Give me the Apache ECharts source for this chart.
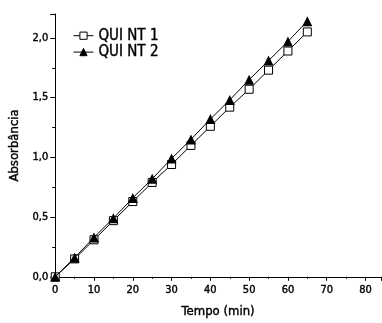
<!DOCTYPE html>
<html>
<head>
<meta charset="utf-8">
<script src="https://cdn.jsdelivr.net/npm/echarts@6/dist/echarts.min.js"></script>
<style>
  html, body { margin: 0; padding: 0; background: #fff; }
  #chart { width: 382px; height: 323px; }
</style>
</head>
<body>
<div id="chart"></div>
<script>
const tempo = [0, 5, 10, 15, 20, 25, 30, 35, 40, 45, 50, 55, 60, 65];
const quint1 = [0, 0.15, 0.31, 0.47, 0.63, 0.79, 0.94, 1.10, 1.26, 1.42, 1.57, 1.73, 1.89, 2.05];
const quint2 = [0, 0.16, 0.33, 0.49, 0.66, 0.82, 0.99, 1.15, 1.32, 1.48, 1.65, 1.81, 1.97, 2.14];
const seriesNames = ['QUI NT 1', 'QUI NT 2'];

const font = 'DejaVu Sans Condensed';
const chart = echarts.init(document.getElementById('chart'));

const pairs = (ys) => tempo.map((t, i) => [t, ys[i]]);
const comma = (v, d) => v.toFixed(d).replace('.', ',');
// slightly heavier than regular weight, like the original
const txt = (size) => ({
  fontFamily: font, fontSize: size, color: '#000',
  textBorderColor: '#000', textBorderWidth: 0.4,
});

const option = {
  animation: false,
  grid: {left: 52, top: 14, right: 1, bottom: 37},
  legend: {
    orient: 'vertical',
    left: 68,
    top: 23,
    itemWidth: 20,
    itemHeight: 9,
    itemGap: 1,
    itemStyle: {borderWidth: 1},
    lineStyle: {width: 1},
    textStyle: txt(15),
    data: seriesNames,
  },
  xAxis: {
    type: 'value',
    min: 0,
    max: 84,
    interval: 10,
    name: 'Tempo (min)',
    nameLocation: 'middle',
    nameGap: 28,
    nameTextStyle: txt(13),
    splitLine: {show: false},
    axisLine: {lineStyle: {color: '#000', width: 1}},
    axisTick: {length: 4, lineStyle: {color: '#000'}},
    minorTick: {show: true, splitNumber: 2, length: 2, lineStyle: {color: '#000'}},
    axisLabel: Object.assign(txt(11), {
      margin: 8, showMaxLabel: false,
      formatter: (v) => (v % 10 === 0 ? String(v) : ''),
    }),
  },
  yAxis: {
    type: 'value',
    min: 0,
    max: 2.2,
    interval: 0.5,
    name: 'Absorbância',
    nameLocation: 'middle',
    nameGap: 31,
    nameTextStyle: txt(13),
    splitLine: {show: false},
    axisLine: {lineStyle: {color: '#000', width: 1}},
    axisTick: {length: 5, lineStyle: {color: '#000'}},
    minorTick: {show: true, splitNumber: 2, length: 3, lineStyle: {color: '#000'}},
    axisLabel: Object.assign(txt(11), {
      margin: 7, showMaxLabel: false,
      formatter: (v) => (Math.abs(v * 2 - Math.round(v * 2)) < 1e-6 ? comma(v, 1) : ''),
    }),
  },
  series: [
    {
      name: seriesNames[0],
      type: 'line',
      data: pairs(quint1),
      symbol: 'rect',
      symbolSize: 8,
      lineStyle: {color: '#000', width: 1},
      itemStyle: {color: '#fff', borderColor: '#000', borderWidth: 1},
      z: 2,
    },
    {
      name: seriesNames[1],
      type: 'line',
      data: pairs(quint2),
      symbol: 'triangle',
      symbolSize: 10,
      lineStyle: {color: '#000', width: 1},
      itemStyle: {color: '#000', borderColor: '#000', borderWidth: 0},
      z: 3,
    },
  ],
};

chart.setOption(option);
</script>
</body>
</html>
